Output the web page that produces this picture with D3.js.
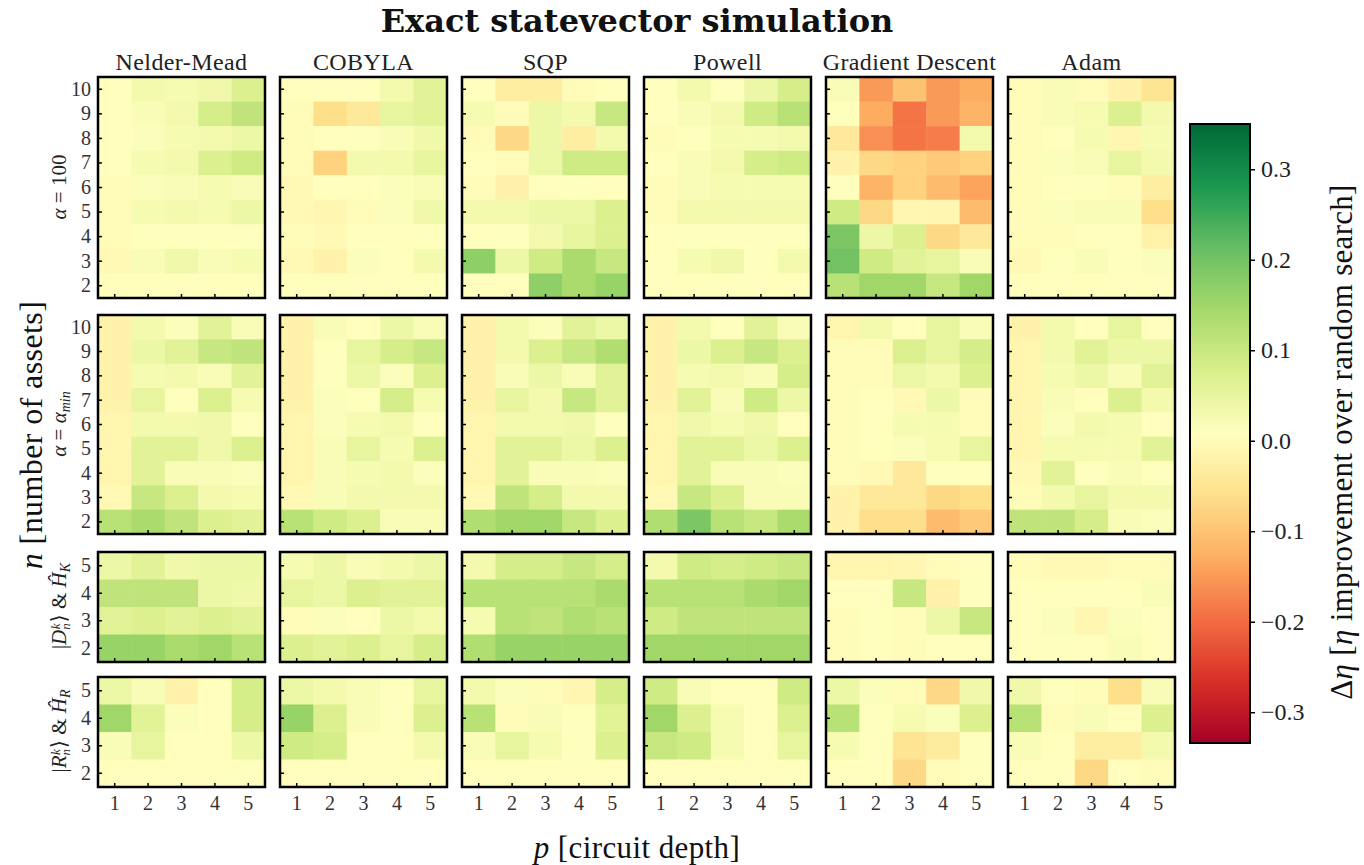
<!DOCTYPE html>
<html>
<head>
<meta charset="utf-8">
<script src="https://cdn.jsdelivr.net/npm/d3@7"></script>
<style>
  body { margin: 0; background: #fff; }
  svg { font-family: "Liberation Serif", "DejaVu Serif", serif; }
</style>
</head>
<body>
<svg id="chart" width="1364" height="865"></svg>
<script>
// optimizers (columns) and axis values
const optimizers = ["Nelder-Mead", "COBYLA", "SQP", "Powell", "Gradient Descent", "Adam"];
const depths = [1, 2, 3, 4, 5];
const nLarge = [10, 9, 8, 7, 6, 5, 4, 3, 2]; // top to bottom
const nSmall = [5, 4, 3, 2];
const cbarTicks = [-0.3, -0.2, -0.1, 0.0, 0.1, 0.2, 0.3];

// alpha = 100, one matrix per optimizer, rows n=10..2, cols p=1..5
const alpha100Values = [
  [[0.005,0.03,0.025,0.035,0.07],[0.005,0.02,0.03,0.08,0.11],[0.005,0.015,0.025,0.03,0.04],[0.005,0.025,0.03,0.07,0.09],[0.0,0.015,0.02,0.025,0.02],[0.0,0.025,0.03,0.025,0.04],[0.0,0.01,0.01,0.01,0.01],[-0.005,0.02,0.035,0.02,0.025],[0.005,0.005,0.005,0.005,0.005]],
  [[0.005,0.005,0.005,0.03,0.06],[0.0,-0.06,-0.04,0.05,0.06],[0.0,0.005,0.01,0.02,0.035],[0.0,-0.08,0.03,0.03,0.05],[-0.005,0.005,0.005,0.015,0.02],[-0.005,-0.01,0.0,0.015,0.035],[0.0,-0.005,0.005,0.005,0.01],[-0.005,-0.02,0.015,0.005,0.03],[0.005,0.005,0.005,0.005,0.01]],
  [[0.005,-0.03,-0.03,0.0,0.005],[0.025,0.0,0.04,0.03,0.1],[0.0,-0.07,0.04,-0.03,0.03],[0.005,0.0,0.04,0.09,0.09],[0.0,-0.02,0.005,0.01,0.005],[0.03,0.03,0.04,0.04,0.07],[0.005,0.01,0.03,0.05,0.07],[0.17,0.04,0.09,0.14,0.1],[0.005,0.005,0.17,0.14,0.16]],
  [[0.005,0.03,0.01,0.04,0.08],[0.005,0.02,0.03,0.09,0.12],[0.0,0.01,0.025,0.025,0.03],[0.005,0.02,0.03,0.08,0.09],[0.0,0.02,0.025,0.025,0.025],[0.0,0.03,0.03,0.03,0.03],[0.005,0.01,0.01,0.01,0.01],[0.005,0.025,0.035,0.01,0.03],[0.005,0.005,0.005,0.005,0.005]],
  [[0.02,-0.15,-0.10,-0.15,-0.13],[0.01,-0.13,-0.19,-0.15,-0.12],[-0.04,-0.16,-0.19,-0.18,0.03],[-0.02,-0.07,-0.08,-0.09,-0.08],[0.01,-0.12,-0.08,-0.11,-0.14],[0.09,-0.07,-0.01,-0.01,-0.11],[0.19,0.04,0.07,-0.07,-0.04],[0.20,0.09,0.06,0.05,0.02],[0.12,0.15,0.15,0.1,0.15]],
  [[0.0,0.02,0.0,-0.02,-0.05],[0.0,0.02,0.025,0.07,0.03],[0.0,0.005,0.025,-0.01,0.025],[0.0,0.015,0.02,0.05,0.03],[0.0,0.005,0.01,0.0,-0.03],[0.0,0.015,0.02,0.02,-0.06],[0.0,0.0,0.005,0.005,-0.02],[-0.005,0.01,0.02,0.01,0.015],[0.005,0.005,0.005,0.005,0.005]]
];

// alpha = alpha_min
const alphaMinValues = [
  [[-0.02,0.03,0.015,0.06,0.02],[-0.02,0.04,0.06,0.1,0.11],[-0.02,0.025,0.03,0.02,0.06],[-0.02,0.05,0.01,0.07,0.025],[-0.015,0.03,0.03,0.035,0.01],[-0.015,0.06,0.06,0.035,0.07],[-0.015,0.06,0.02,0.02,0.015],[-0.005,0.1,0.07,0.03,0.025],[0.12,0.14,0.11,0.07,0.06]],
  [[-0.02,0.02,0.005,0.04,0.02],[-0.02,0.01,0.05,0.08,0.1],[-0.02,0.01,0.04,0.015,0.07],[-0.02,0.015,0.01,0.08,0.025],[-0.015,0.015,0.025,0.03,0.01],[-0.015,0.02,0.05,0.025,0.07],[-0.015,0.02,0.025,0.03,0.015],[-0.005,0.02,0.03,0.03,0.03],[0.12,0.09,0.07,0.02,0.02]],
  [[-0.02,0.03,0.015,0.06,0.04],[-0.02,0.03,0.07,0.1,0.13],[-0.02,0.02,0.04,0.02,0.06],[-0.02,0.05,0.03,0.1,0.06],[-0.015,0.03,0.03,0.035,0.01],[-0.015,0.06,0.06,0.04,0.07],[-0.015,0.06,0.02,0.02,0.015],[-0.005,0.11,0.08,0.03,0.03],[0.13,0.15,0.15,0.1,0.07]],
  [[-0.02,0.03,0.01,0.06,0.02],[-0.02,0.04,0.07,0.1,0.07],[-0.02,0.025,0.03,0.02,0.08],[-0.02,0.06,0.02,0.09,0.04],[-0.015,0.035,0.025,0.035,0.005],[-0.015,0.06,0.06,0.04,0.07],[-0.015,0.06,0.02,0.02,0.015],[-0.005,0.1,0.07,0.02,0.02],[0.13,0.19,0.12,0.1,0.14]],
  [[-0.015,0.03,0.005,0.05,0.02],[0.0,0.0,0.07,0.05,0.08],[0.0,0.0,0.04,0.03,0.07],[0.0,0.005,-0.005,0.04,0.0],[0.0,0.005,0.025,0.025,0.0],[0.0,0.005,0.015,0.025,0.05],[0.0,-0.005,-0.04,0.01,0.005],[-0.02,-0.04,-0.04,-0.07,-0.06],[-0.02,-0.06,-0.06,-0.11,-0.09]],
  [[-0.02,0.03,0.005,0.05,0.005],[-0.015,0.03,0.06,0.04,0.04],[-0.015,0.025,0.04,0.02,0.06],[-0.015,0.02,0.005,0.07,0.03],[-0.015,0.015,0.03,0.025,0.005],[-0.015,0.025,0.025,0.025,0.06],[-0.005,0.06,0.01,0.02,0.01],[0.0,0.03,0.05,0.03,0.03],[0.11,0.11,0.08,0.02,0.015]]
];

// |D_n^k> & H_K, rows n=5..2
const dickeValues = [
  [[0.04,0.06,0.035,0.04,0.04],[0.11,0.11,0.11,0.04,0.035],[0.06,0.07,0.06,0.07,0.06],[0.16,0.16,0.14,0.15,0.12]],
  [[0.025,0.04,0.02,0.03,0.04],[0.05,0.04,0.07,0.06,0.06],[0.0,0.015,0.005,0.04,0.03],[0.07,0.06,0.07,0.05,0.08]],
  [[0.03,0.08,0.08,0.1,0.08],[0.12,0.12,0.12,0.12,0.14],[0.025,0.12,0.11,0.13,0.12],[0.13,0.16,0.16,0.16,0.16]],
  [[0.03,0.09,0.08,0.09,0.1],[0.12,0.12,0.12,0.14,0.15],[0.09,0.11,0.11,0.11,0.11],[0.15,0.15,0.15,0.15,0.15]],
  [[-0.015,-0.015,-0.01,0.0,0.005],[0.005,0.005,0.1,-0.02,0.01],[0.0,0.01,0.0,0.04,0.1],[0.0,0.005,0.0,0.005,0.005]],
  [[0.0,-0.005,-0.005,0.0,0.0],[0.005,0.005,0.005,0.005,0.02],[0.005,0.015,-0.01,0.015,0.005],[0.005,0.01,0.005,0.02,0.005]]
];

// |R_n^k> & H_R, rows n=5..2
const randomValues = [
  [[0.04,0.02,-0.02,0.005,0.08],[0.15,0.06,0.015,0.005,0.08],[0.02,0.05,0.005,0.005,0.04],[0.005,0.005,0.005,0.005,0.01]],
  [[0.04,0.03,0.02,0.01,0.05],[0.16,0.07,0.02,0.01,0.07],[0.09,0.08,0.005,0.005,0.03],[0.005,0.005,0.005,0.005,0.005]],
  [[0.03,0.015,0.0,-0.01,0.08],[0.12,0.0,0.02,0.01,0.06],[0.02,0.05,0.025,0.01,0.07],[0.005,0.005,0.005,0.005,0.005]],
  [[0.09,0.02,0.005,0.005,0.09],[0.15,0.07,0.025,0.005,0.07],[0.1,0.09,0.025,0.005,0.05],[0.005,0.005,0.005,0.005,0.01]],
  [[0.04,0.015,0.0,-0.07,0.035],[0.12,0.01,0.025,0.015,0.07],[0.025,0.005,-0.05,-0.035,0.01],[0.005,0.005,-0.07,0.0,0.005]],
  [[0.035,0.01,0.0,-0.06,0.02],[0.12,0.0,0.02,0.005,0.07],[0.02,0.005,-0.03,-0.03,0.03],[0.005,0.005,-0.07,0.005,0.0]]
];

const svg = d3.select("#chart");
const vmin = -0.334, vmax = 0.35;

// RdYlGn like matplotlib (linear between the 11 brewer colours)
const rdylgn = ["#a50026","#d73027","#f46d43","#fdae61","#fee08b","#ffffbf","#d9ef8b","#a6d96a","#66bd63","#1a9850","#006837"];
const color = d3.scaleLinear()
  .domain(d3.range(11).map(i => vmin + i * (vmax - vmin) / 10))
  .range(rdylgn)
  .interpolate(d3.interpolateRgb)
  .clamp(true);

const panelX0 = 98, panelStep = 182, panelW = 167;
const rowsSpec = [
  { values: alpha100Values, ns: nLarge, top: 77, h: 221 },
  { values: alphaMinValues, ns: nLarge, top: 315, h: 219 },
  { values: dickeValues, ns: nSmall, top: 552, h: 110 },
  { values: randomValues, ns: nSmall, top: 677, h: 110 }
];

rowsSpec.forEach((row, ri) => {
  optimizers.forEach((opt, ci) => {
    const x0 = panelX0 + ci * panelStep;
    const g = svg.append("g").attr("transform", `translate(${x0},${row.top})`);
    const x = d3.scaleBand().domain(depths).range([0, panelW]);
    const y = d3.scaleBand().domain(row.ns).range([0, row.h]);
    const cells = [];
    row.values[ci].forEach((r, i) => r.forEach((v, j) => cells.push({ n: row.ns[i], p: depths[j], v })));

    g.selectAll("rect.cell")
      .data(cells)
      .enter()
      .append("rect")
      .attr("class", "cell")
      .attr("x", d => x(d.p))
      .attr("y", d => y(d.n))
      .attr("width", x.bandwidth() + 0.5)
      .attr("height", y.bandwidth() + 0.5)
      .attr("fill", d => color(d.v));

    // inward ticks
    const ya = g.append("g").call(d3.axisLeft(y).tickSize(-4).tickPadding(7));
    const xa = g.append("g").attr("transform", `translate(0,${row.h})`)
      .call(d3.axisBottom(x).tickSize(-4).tickPadding(9));
    [ya, xa].forEach(a => {
      a.select(".domain").remove();
      a.selectAll("line").attr("stroke", "#000").attr("stroke-width", 1.5);
      a.selectAll("text").attr("font-size", 20).attr("fill", "#333")
        .attr("font-family", "Liberation Serif, serif");
    });
    if (ci > 0) ya.selectAll("text").remove();
    if (ri < 3) xa.selectAll("text").remove();

    g.append("rect")
      .attr("width", panelW).attr("height", row.h)
      .attr("fill", "none").attr("stroke", "#000").attr("stroke-width", 2.5);

    if (ri === 0) {
      svg.append("text")
        .attr("x", x0 + panelW / 2).attr("y", 70)
        .attr("text-anchor", "middle")
        .attr("font-size", 24)
        .attr("letter-spacing", 0.4)
        .attr("fill", "#222")
        .text(opt);
    }
  });
});

// row labels (rotated)
function rowLabel(cy, build) {
  const t = svg.append("text")
    .attr("transform", `translate(66,${cy}) rotate(-90)`)
    .attr("text-anchor", "middle")
    .attr("font-size", 21)
    .attr("fill", "#222");
  build(t);
}
rowLabel(187, t => {
  t.append("tspan").attr("font-style", "italic").text("α");
  t.append("tspan").text(" = 100");
});
rowLabel(424, t => {
  t.append("tspan").attr("font-style", "italic").text("α");
  t.append("tspan").text(" = ");
  t.append("tspan").attr("font-style", "italic").text("α");
  t.append("tspan").attr("font-style", "italic").attr("font-size", 14).attr("baseline-shift", "-25%").text("min");
});
function ketLabel(t, letter, hsub) {
  t.append("tspan").text("|");
  t.append("tspan").attr("font-style", "italic").text(letter);
  t.append("tspan").attr("font-style", "italic").attr("font-size", 13).attr("baseline-shift", "-30%").text("n");
  t.append("tspan").attr("font-style", "italic").attr("font-size", 13).attr("dx", -6).attr("baseline-shift", "45%").text("k");
  t.append("tspan").attr("dx", 1).text("⟩ & ");
  t.append("tspan").attr("font-style", "italic").text("H\u0302");
  t.append("tspan").attr("font-style", "italic").attr("font-size", 14).attr("baseline-shift", "-25%").text(hsub);
}
rowLabel(606, t => ketLabel(t, "D", "K"));
rowLabel(731, t => ketLabel(t, "R", "R"));

// title
svg.append("text")
  .attr("x", 637).attr("y", 32)
  .attr("text-anchor", "middle")
  .attr("font-size", 32).attr("font-weight", "bold")
  .attr("font-family", "DejaVu Serif, serif")
  .attr("fill", "#111")
  .text("Exact statevector simulation");

// big axis labels
const ylab = svg.append("text")
  .attr("transform", "translate(42,435) rotate(-90)")
  .attr("text-anchor", "middle")
  .attr("font-size", 32).attr("letter-spacing", 0.4).attr("fill", "#111");
ylab.append("tspan").attr("font-style", "italic").text("n");
ylab.append("tspan").text(" [number of assets]");

const xlab = svg.append("text")
  .attr("x", 637).attr("y", 858)
  .attr("text-anchor", "middle")
  .attr("font-size", 31).attr("letter-spacing", 0.4).attr("fill", "#111");
xlab.append("tspan").attr("font-style", "italic").text("p");
xlab.append("tspan").text(" [circuit depth]");

// colorbar
const cbX = 1190, cbW = 60, cbTop = 124, cbBot = 743;
const cbScale = d3.scaleLinear().domain([vmin, vmax]).range([cbBot, cbTop]);
const grad = svg.append("defs").append("linearGradient")
  .attr("id", "cbgrad").attr("x1", 0).attr("y1", 1).attr("x2", 0).attr("y2", 0);
d3.range(0, 1.0001, 0.02).forEach(t => {
  grad.append("stop").attr("offset", t).attr("stop-color", color(vmin + t * (vmax - vmin)));
});
svg.append("rect")
  .attr("x", cbX).attr("y", cbTop).attr("width", cbW).attr("height", cbBot - cbTop)
  .attr("fill", "url(#cbgrad)").attr("stroke", "#000").attr("stroke-width", 2);
const cbAxis = svg.append("g").attr("transform", `translate(${cbX + cbW},0)`)
  .call(d3.axisRight(cbScale).tickValues(cbarTicks).tickSize(5).tickPadding(6)
    .tickFormat(d => (d < 0 ? "\u2212" : "") + Math.abs(d).toFixed(1)));
cbAxis.select(".domain").remove();
cbAxis.selectAll("line").attr("stroke", "#000").attr("stroke-width", 1.5);
cbAxis.selectAll("text").attr("font-size", 24).attr("fill", "#222")
  .attr("font-family", "Liberation Serif, serif");

const cblab = svg.append("text")
  .attr("transform", "translate(1352,442) rotate(-90)")
  .attr("text-anchor", "middle")
  .attr("font-size", 31).attr("letter-spacing", 0.3).attr("fill", "#111");
cblab.append("tspan").text("Δ");
cblab.append("tspan").attr("font-style", "italic").text("η");
cblab.append("tspan").text(" [");
cblab.append("tspan").attr("font-style", "italic").text("η");
cblab.append("tspan").text(" improvement over random search]");
</script>
</body>
</html>
